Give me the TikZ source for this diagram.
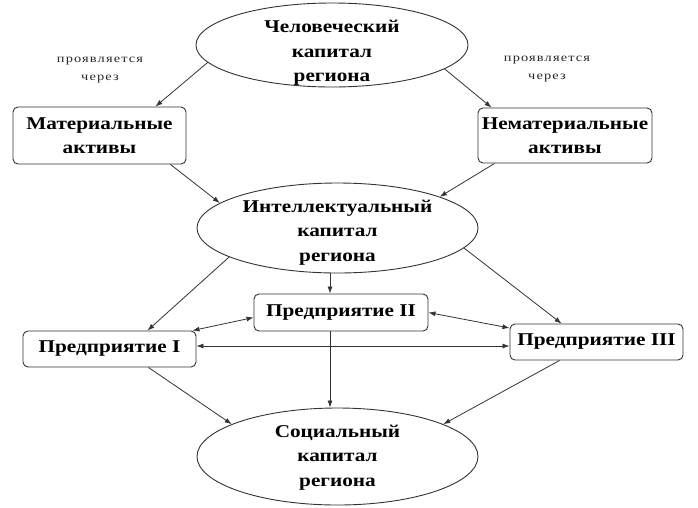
\documentclass[tikz,border=0pt]{standalone}
\usepackage{fontspec}
\setmainfont{Liberation Serif}
\newfontfamily\mainf{Liberation Serif}[FakeStretch=1.18]
\newfontfamily\smallf{Liberation Serif}[FakeStretch=1.25,LetterSpace=10]
\usetikzlibrary{shapes.geometric,arrows.meta}
\begin{document}
\begin{tikzpicture}[x=1pt,y=-1pt,
  txt/.style={font=\mainf\bfseries\fontsize{18}{24.5}\selectfont, align=center, inner sep=0pt, text=black},
  oval/.style={ellipse, draw=black!80, line width=0.9pt, inner sep=0pt},
  rbox/.style={draw=black!80, line width=0.9pt, rounded corners=5pt, inner sep=0pt, txt},
  lbl/.style={font=\smallf\fontsize{11.5}{18}\selectfont, align=center, text=black!85, inner sep=0pt},
  arr/.style={draw=black!80, line width=0.8pt, -{Latex[length=7pt,width=5pt]}},
  darr/.style={draw=black!80, line width=0.8pt, {Latex[length=7pt,width=5pt]}-{Latex[length=7pt,width=5pt]}}
]
\useasboundingbox (0,0) rectangle (698,507);
% ellipses
\node[oval, minimum width=272pt, minimum height=84pt] (hc) at (332,45) {};
\node[txt] (hct) at (332,53) {Человеческий\\капитал\\региона};
\node[oval, minimum width=281pt, minimum height=90pt] (ic) at (337.5,228) {};
\node[txt] (ict) at (337.5,232.5) {Интеллектуальный\\капитал\\региона};
\node[oval, minimum width=281pt, minimum height=97pt] (sc) at (337.5,456.5) {};
\node[txt] (sct) at (337.5,457.5) {Социальный\\капитал\\региона};
% boxes
\node[rbox, minimum width=173pt, minimum height=57pt] (ma) at (99.5,135.5) {Материальные\\активы};
\node[rbox, minimum width=174pt, minimum height=55pt] (na) at (565,135.5) {Нематериальные\\активы};
\node[rbox, minimum width=173pt, minimum height=36pt] (p1) at (109.5,349) {Предприятие I};
\node[rbox, minimum width=174pt, minimum height=37pt] (p2) at (341,312.5) {Предприятие II};
\node[rbox, minimum width=173pt, minimum height=36pt] (p3) at (596.5,342) {Предприятие III};
% labels
\node[lbl] (l1) at (100,70) {проявляется\\через};
\node[lbl] (l2) at (547,69) {проявляется\\через};
% connectors
\draw[arr] (hc.188) -- ([xshift=-31pt]ma.north east);
\draw[arr] (hc.348.5) -- ([xshift=14pt]na.north west);
\draw[arr] ([xshift=-16pt]ma.south east) -- (ic.168);
\draw[arr] ([xshift=17pt]na.south west) -- (ic.17.5);
\draw[arr] (ic.195) -- ([xshift=-49pt]p1.north east);
\draw[arr] (ic.351.5) -- ([xshift=52pt]p3.north west);
\coordinate (v1) at ([xshift=-11pt]p2.north);
\draw[arr] (v1 |- ic.south) -- (v1);
\draw[darr] ([yshift=-5pt]p2.west) -- ([xshift=-4pt]p1.north east);
\draw[darr] (p2.east) -- ([yshift=14pt]p3.west);
\draw[darr] ([yshift=3pt]p1.east) -- ([yshift=3pt]p1.east -| p3.west);
\coordinate (v2) at ([xshift=-11pt]p2.south);
\draw[arr] (v2) -- (v2 |- sc.north);
\draw[arr] ([xshift=-48pt]p1.south east) -- (sc.163);
\draw[arr] ([xshift=50pt]p3.south west) -- (sc.17);
\end{tikzpicture}
\end{document}
